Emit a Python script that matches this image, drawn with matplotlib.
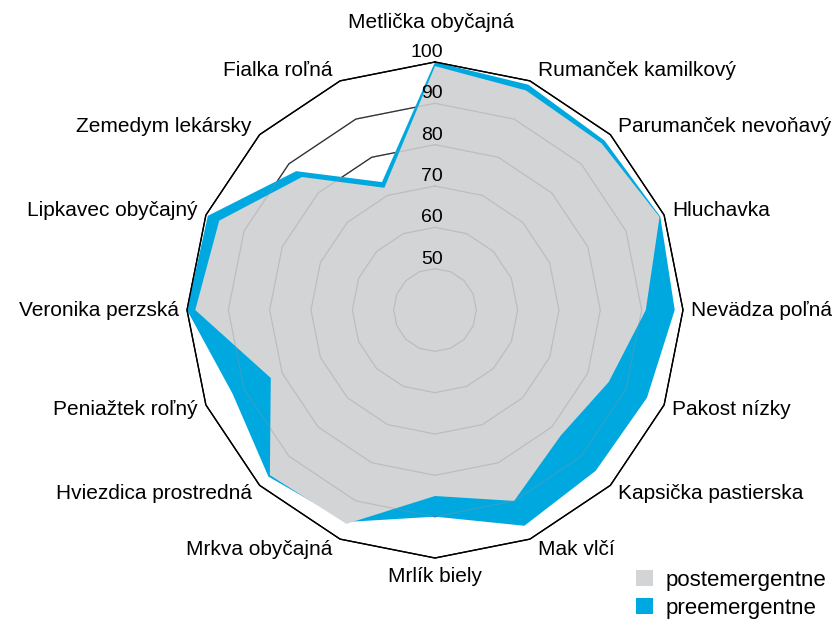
import numpy as np
import matplotlib
matplotlib.use("Agg")
import matplotlib.pyplot as plt
from matplotlib.patches import Patch

plt.rcParams['font.family'] = ['Liberation Sans', 'DejaVu Sans']

categories = ["Metlička obyčajná", "Rumanček kamilkový", "Parumanček nevoňavý",
              "Hluchavka", "Nevädza poľná", "Pakost nízky", "Kapsička pastierska",
              "Mak vlčí", "Mrlík biely", "Mrkva obyčajná", "Hviezdica prostredná",
              "Peniažtek roľný", "Veronika perzská", "Lipkavec obyčajný",
              "Zemedym lekársky", "Fialka roľná"]
preemergentne = [100, 99, 98, 99, 98, 95.5, 95, 96.5, 90, 95.5, 97, 93, 100, 99.5, 87.5, 73.5]
postemergentne = [99, 97.5, 97, 98.8, 91, 85.5, 83, 90, 85, 96, 96.5, 83, 98, 96.5, 85.5, 72]
rings = [50, 60, 70, 80, 90, 100]
series_names = ["postemergentne", "preemergentne"]

GREY = '#d3d4d6'
BLUE = '#00a8e0'

W, H = 837, 621
fig = plt.figure(figsize=(W / 100, H / 100), dpi=100)
cx, cy, R = 435, 310, 248
ax = fig.add_axes([(cx - R) / W, (H - cy - R) / H, 2 * R / W, 2 * R / H], projection='polar')
ax.set_theta_zero_location('N')
ax.set_theta_direction(-1)
ax.set_ylim(40, 100)
ax.grid(False)
ax.set_xticks([])
ax.set_yticks([])
ax.spines['polar'].set_visible(False)
ax.patch.set_visible(False)

n = len(categories)
theta = np.arange(n) * 2 * np.pi / n
tc = np.append(theta, theta[0])

def closed(v):
    v = list(v)
    return np.array(v + v[:1])

# grid under fills
for r in rings:
    ax.plot(tc, np.full(n + 1, r), color='black', lw=0.9, zorder=1, clip_on=False)

ax.fill(tc, closed(preemergentne), color=BLUE, lw=0, zorder=2)
ax.fill(tc, closed(postemergentne), color=GREY, lw=0, zorder=3)

# grid on top (faint)
for r in rings[:-1]:
    ax.plot(tc, np.full(n + 1, r), color='#8c959c', lw=0.9, alpha=0.35, zorder=4)
ax.plot(tc, np.full(n + 1, 100), color='black', lw=1.0, zorder=5, clip_on=False)

# ring labels
for r in rings:
    ax.annotate(str(r), xy=(0, r), xytext=(8 * 0.72, 9.5 * 0.72), textcoords='offset points',
                ha='right', va='center', fontsize=14, zorder=6, annotation_clip=False)

# category labels
for t, lab in zip(theta, categories):
    s, c = np.sin(t), np.cos(t)
    if abs(s) < 0.1:
        ha = 'center'
        dx = -4 if c > 0 else 0
        dy = 40 if c > 0 else -19
    else:
        ha = 'left' if s > 0 else 'right'
        dx = 8 if s > 0 else -8
        dy = 11 * c
    ax.annotate(lab, xy=(t, 100), xytext=(dx * 0.72, dy * 0.72),
                textcoords='offset points',
                ha=ha, va='center', fontsize=15, annotation_clip=False)

handles = [Patch(facecolor=GREY, edgecolor='none'), Patch(facecolor=BLUE, edgecolor='none')]
fig.legend(handles, series_names, loc='upper left', bbox_to_anchor=(636 / W, 1 - 570 / H),
           frameon=False, fontsize=16, handlelength=0.75, handleheight=0.7,
           handletextpad=0.6, labelspacing=0.3, borderpad=0, borderaxespad=0)

fig.savefig('out.png', dpi=100)
